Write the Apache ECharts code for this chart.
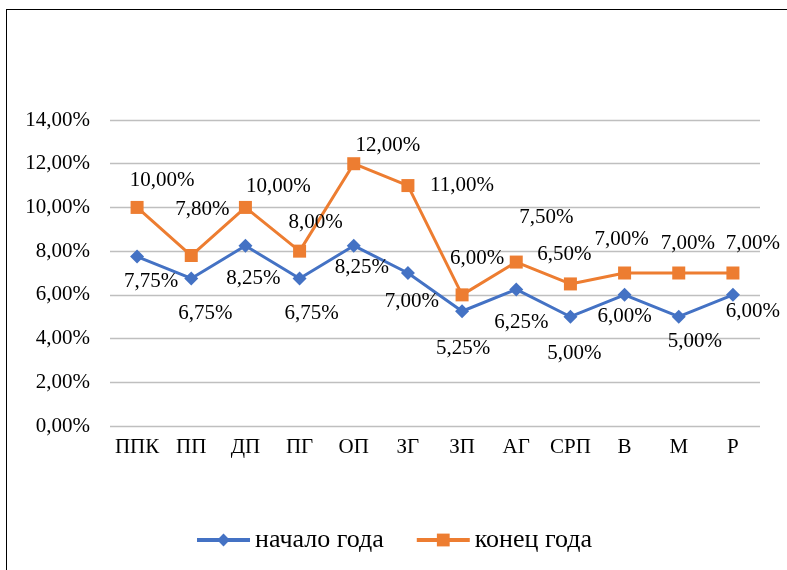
<!DOCTYPE html>
<html>
<head>
<meta charset="utf-8">
<script src="https://cdn.jsdelivr.net/npm/echarts@6/dist/echarts.min.js"></script>
<style>
  html, body { margin: 0; padding: 0; background: #fff; overflow: hidden; }
  #frame { position: absolute; left: 6px; top: 9px; width: 800px; height: 600px; border: 1.5px solid #000; }
  #main { position: absolute; left: 0; top: 0; width: 787px; height: 570px; }
</style>
</head>
<body>
<div id="frame"></div>
<div id="main"></div>
<script>
// категории и значения
const categories = ['ППК', 'ПП', 'ДП', 'ПГ', 'ОП', 'ЗГ', 'ЗП', 'АГ', 'СРП', 'В', 'М', 'Р']
const startYear = [7.75, 6.75, 8.25, 6.75, 8.25, 7.00, 5.25, 6.25, 5.00, 6.00, 5.00, 6.00]
const endYear = [10.00, 7.80, 10.00, 8.00, 12.00, 11.00, 6.00, 7.50, 6.50, 7.00, 7.00, 7.00]

// сдвиг подписей относительно точки (как в исходной диаграмме)
const startShift = [[14, 25], [14, 35], [8, 33], [12, 35], [8, 22], [4, 28], [1, 37], [5, 33], [4, 37], [0, 22], [16, 25], [20, 17]]
const endShift = [[25, -27], [11, -46], [33, -21], [16, -29], [34, -18], [54, 0], [15, -36], [30, -45], [-6, -29], [-3, -34], [9, -30], [20, -30]]

const fontFamily = '"Liberation Serif", "Times New Roman", serif'
const pct = v => v.toFixed(2).replace('.', ',') + '%'

function withLabels (values, shifts) {
  return values.map((v, i) => ({
    value: v,
    label: { offset: shifts[i] }
  }))
}

let myChart = echarts.init(document.getElementById('main'))
myChart.setOption({
  animation: false,
  textStyle: { fontFamily: fontFamily },
  grid: { left: 110, right: 27, top: 120, bottom: 144 },
  legend: {
    bottom: 12,
    left: 'center',
    itemWidth: 53,
    itemHeight: 16,
    itemGap: 31,
    lineStyle: { width: 4 },
    textStyle: { fontSize: 26, color: '#000', fontFamily: fontFamily },
    data: ['начало года', 'конец года']
  },
  xAxis: {
    type: 'category',
    data: categories,
    axisLine: { show: false },
    axisTick: { show: false },
    axisLabel: { color: '#000', fontSize: 21, margin: 11, interval: 0, fontFamily: fontFamily }
  },
  yAxis: {
    type: 'value',
    min: 0,
    max: 14,
    interval: 2,
    axisLine: { show: false },
    axisTick: { show: false },
    axisLabel: { color: '#000', fontSize: 21, margin: 20, formatter: pct, fontFamily: fontFamily },
    splitLine: { lineStyle: { color: '#bfbfbf', width: 1.3 } }
  },
  series: [
    {
      name: 'начало года',
      type: 'line',
      data: withLabels(startYear, startShift),
      symbol: 'diamond',
      symbolSize: 14,
      itemStyle: { color: '#4472C4' },
      lineStyle: { color: '#4472C4', width: 3 },
      label: {
        show: true,
        position: 'inside',
        color: '#000',
        fontSize: 21,
        fontFamily: fontFamily,
        formatter: p => pct(p.value)
      },
      z: 3
    },
    {
      name: 'конец года',
      type: 'line',
      data: withLabels(endYear, endShift),
      symbol: 'rect',
      symbolSize: 13,
      itemStyle: { color: '#ED7D31' },
      lineStyle: { color: '#ED7D31', width: 3 },
      label: {
        show: true,
        position: 'inside',
        color: '#000',
        fontSize: 21,
        fontFamily: fontFamily,
        formatter: p => pct(p.value)
      },
      z: 2
    }
  ]
})
</script>
</body>
</html>
